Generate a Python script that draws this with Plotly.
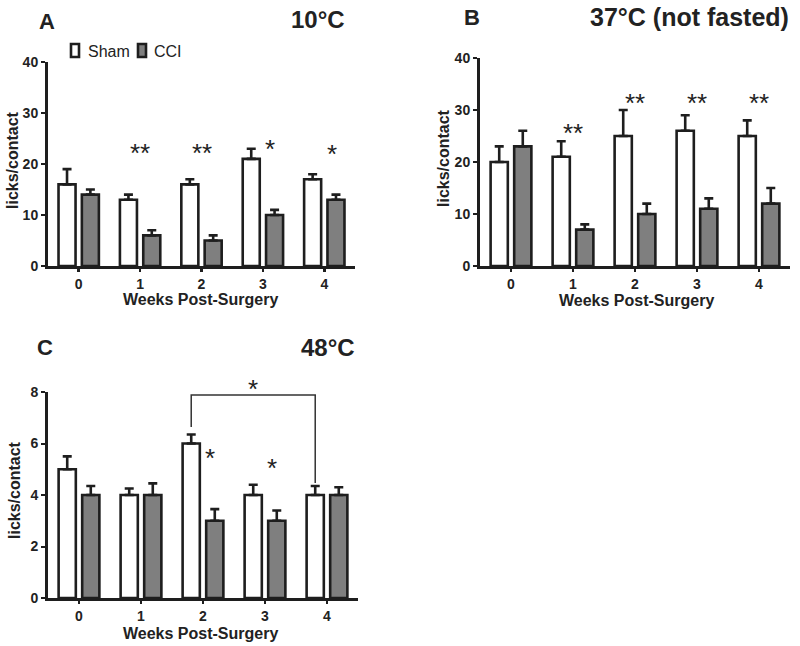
import plotly.graph_objects as go

weeks = ["0", "1", "2", "3", "4"]

# Panel A (10°C)
a_sham = [16, 13, 16, 21, 17]
a_sham_err = [3, 1, 1, 2, 1]
a_cci = [14, 6, 5, 10, 13]
a_cci_err = [1, 1, 1, 1, 1]

# Panel B (37°C not fasted)
b_sham = [20, 21, 25, 26, 25]
b_sham_err = [3, 3, 5, 3, 3]
b_cci = [23, 7, 10, 11, 12]
b_cci_err = [3, 1, 2, 2, 3]

# Panel C (48°C)
c_sham = [5, 4, 6, 4, 4]
c_sham_err = [0.5, 0.25, 0.35, 0.4, 0.35]
c_cci = [4, 4, 3, 3, 4]
c_cci_err = [0.35, 0.45, 0.45, 0.4, 0.3]

FONT = "Liberation Sans, Arial, sans-serif"
DARK = "#1e1e1e"
GRAY = "#7f7f7f"
W, H = 800, 646

fig = go.Figure()


def add_pair(sham, sham_err, cci, cci_err, xa, ya):
    for name, vals, err, fill in [("Sham", sham, sham_err, "white"),
                                  ("CCI", cci, cci_err, GRAY)]:
        fig.add_trace(go.Bar(
            x=weeks, y=vals, name=name, showlegend=False,
            xaxis=xa, yaxis=ya,
            marker=dict(color=fill, line=dict(color=DARK, width=2.6)),
            error_y=dict(type="data", array=err, arrayminus=[0] * len(err),
                         symmetric=False, color=DARK, thickness=2.6, width=4.5),
        ))


add_pair(a_sham, a_sham_err, a_cci, a_cci_err, "x", "y")
add_pair(b_sham, b_sham_err, b_cci, b_cci_err, "x2", "y2")
add_pair(c_sham, c_sham_err, c_cci, c_cci_err, "x3", "y3")


def px_x(p):
    return p / W


def px_y(p):
    return 1 - p / H


tickfont = dict(family=FONT, size=14, color="#222", weight="bold")
xcommon = dict(type="category", range=[-0.5, 4.5], showline=True, linecolor=DARK,
               linewidth=3, ticks="outside", ticklen=3, tickwidth=2.5,
               tickcolor=DARK, tickfont=tickfont, showgrid=False, zeroline=False,
               fixedrange=True, automargin=False)
ycommon = dict(showline=True, linecolor=DARK, linewidth=3, ticks="outside",
               ticklen=4, tickwidth=2, tickcolor=DARK, tickfont=tickfont,
               showgrid=False, zeroline=False, fixedrange=True, automargin=False)

fig.update_layout(
    width=W, height=H,
    margin=dict(l=0, r=0, t=0, b=0, pad=0, autoexpand=False),
    paper_bgcolor="white", plot_bgcolor="white",
    barmode="group", bargap=0.24, bargroupgap=0.27,
    font=dict(family=FONT, color="#222"),
    showlegend=False,
    xaxis=dict(domain=[px_x(48), px_x(355)], anchor="y", **xcommon),
    yaxis=dict(domain=[px_y(266), px_y(62)], anchor="x", range=[0, 40],
               tickvals=[0, 10, 20, 30, 40], **ycommon),
    xaxis2=dict(domain=[px_x(480), px_x(790)], anchor="y2", **xcommon),
    yaxis2=dict(domain=[px_y(266), px_y(58)], anchor="x2", range=[0, 40],
                tickvals=[0, 10, 20, 30, 40], **ycommon),
    xaxis3=dict(domain=[px_x(48), px_x(358)], anchor="y3", **xcommon),
    yaxis3=dict(domain=[px_y(598), px_y(392)], anchor="x3", range=[0, 8],
                tickvals=[0, 2, 4, 6, 8], **ycommon),
)

ann = []


def text(x, y, s, size, xanchor="center", weight="bold", xref="paper", yref="paper",
         angle=0, yshift=0):
    ann.append(dict(x=x, y=y, text=s, xref=xref, yref=yref, showarrow=False,
                    xanchor=xanchor, yanchor="middle", textangle=angle, yshift=yshift,
                    font=dict(family=FONT, size=size, color="#222", weight=weight)))


# Panel labels and titles
text(px_x(37), px_y(22), "A", 22, "left")
text(px_x(347), px_y(19), "10°C", 24, "right")
text(px_x(462), px_y(18), "B", 22, "left")
text(px_x(791), px_y(17), "37°C (not fasted)", 25, "right")
text(px_x(35), px_y(347), "C", 22, "left")
text(px_x(357), px_y(347), "48°C", 24, "right")

# Custom legend (panel A)
legend_items = [("Sham", "white", 70, 86), ("CCI", GRAY, 137, 152)]
for lbl, fill, bx, tx in legend_items:
    fig.add_shape(type="rect", xref="paper", yref="paper",
                  x0=px_x(bx + 1), x1=px_x(bx + 9), y0=px_y(57), y1=px_y(44),
                  fillcolor=fill, line=dict(color=DARK, width=2.6))
    text(px_x(tx), px_y(51), lbl, 16, "left", weight="normal")

# Axis titles
for xc, yc in [(200, 299), (636, 300), (200, 633)]:
    text(px_x(xc), px_y(yc), "Weeks Post-Surgery", 16)
for xc, yc in [(13, 160), (444, 158), (14, 490)]:
    text(px_x(xc), px_y(yc), "licks/contact", 16, angle=-90)

# Significance stars
star_a = [(1, 23, "**"), (2, 23, "**"), (3.11, 23.7, "*"), (4.12, 22.7, "*")]
for xv, yv, s in star_a:
    text(xv, yv, s, 26, weight="normal", xref="x", yref="y", yshift=-4)
star_b = [(1, 26.4, "**"), (2, 32.2, "**"), (3, 32.2, "**"), (4, 32.2, "**")]
for xv, yv, s in star_b:
    text(xv, yv, s, 26, weight="normal", xref="x2", yref="y2", yshift=-4)
star_c = [(2.11, 5.6, "*"), (3.12, 5.2, "*")]
for xv, yv, s in star_c:
    text(xv, yv, s, 26, weight="normal", xref="x3", yref="y3", yshift=-4)
# star above the bracket (outside the y range, so use paper y)
text(2.81, px_y(385), "*", 26, weight="normal", xref="x3", yref="paper", yshift=-4)

fig.update_layout(annotations=ann)

# Bracket in panel C (week 2 Sham vs week 4 Sham)
fig.add_shape(type="path", xref="x3", yref="y3",
              path="M 1.81,6.64 L 1.81,7.88 L 3.81,7.88 L 3.81,4.47",
              line=dict(color="#333", width=1.5))

fig.write_html(
    "out.html",
    config={"displayModeBar": False, "staticPlot": True},
    post_script="document.body.style.margin='0';document.body.style.overflow='hidden';",
)
